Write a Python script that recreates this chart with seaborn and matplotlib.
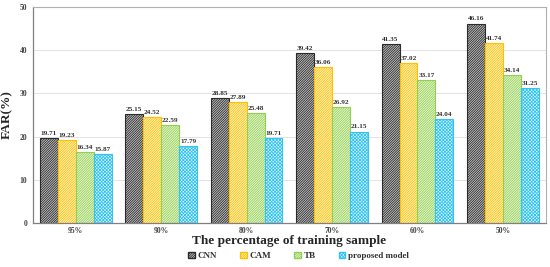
import matplotlib
matplotlib.use("Agg")
import matplotlib.pyplot as plt
import pandas as pd
import seaborn as sns

# data
samples = ["95%", "90%", "80%", "70%", "60%", "50%"]
models = ["CNN", "CAM", "TB", "proposed model"]
cnn = [19.71, 25.15, 28.85, 39.42, 41.35, 46.16]
cam = [19.23, 24.52, 27.89, 36.06, 37.02, 41.74]
tb = [16.34, 22.59, 25.48, 26.92, 33.17, 34.14]
proposed = [15.87, 17.79, 19.71, 21.15, 24.04, 31.25]

rows = []
for m, vals in zip(models, [cnn, cam, tb, proposed]):
    for s, v in zip(samples, vals):
        rows.append({"sample": s, "model": m, "far": v})
df = pd.DataFrame(rows)

sns.set_style("white")
plt.rcParams["font.family"] = ["Liberation Serif", "DejaVu Serif"]
plt.rcParams["hatch.linewidth"] = 0.6

edge_colors = ["#2b2b2b", "#ffc000", "#92d050", "#33c3f0"]
face_colors = ["#c8c8c8", "#fff6d8", "#eef8e0", "#e2f6fd"]
hatches = ["//////////////", "//////////////", "//////////////", "xxxxxxxxxx"]

fig, ax = plt.subplots(figsize=(5.5, 2.67), dpi=100)
sns.barplot(data=df, x="sample", y="far", hue="model", order=samples,
            hue_order=models, width=0.84, ax=ax, legend=True)

for cont, ec, fc, h in zip(ax.containers, edge_colors, face_colors, hatches):
    for bar in cont:
        bar.set_facecolor(fc)
        bar.set_edgecolor(ec)
        bar.set_hatch(h)
        bar.set_linewidth(0.8)
    ax.bar_label(cont, fmt="%.2f", padding=1.5, fontsize=5.2,
                 fontweight="bold", color="#333333")

ax.set_ylim(0, 50)
ax.set_yticks([0, 10, 20, 30, 40, 50])
ax.yaxis.grid(True, color="#e3e3e3", linewidth=0.7)
ax.set_axisbelow(True)
ax.tick_params(axis="both", labelsize=5.5, colors="#444444", length=0, pad=4)
ax.tick_params(axis="x", pad=3)
for lbl in ax.get_xticklabels() + ax.get_yticklabels():
    lbl.set_fontweight("bold")
for side in ["top", "right"]:
    ax.spines[side].set_color("#b0b0b0")
    ax.spines[side].set_linewidth(0.8)
for side in ["left", "bottom"]:
    ax.spines[side].set_color("#808080")
    ax.spines[side].set_linewidth(0.9)

ax.set_xlabel("The percentage of training sample", fontsize=9.5,
              fontweight="bold")
ax.xaxis.set_label_coords(0.5, -0.058)
ax.set_ylabel("FAR(%)", fontsize=9.6, fontweight="bold")
ax.yaxis.set_label_coords(-0.038, 0.5)

handles, labels = ax.get_legend_handles_labels()
for hd, ec, fc, h in zip(handles, edge_colors, face_colors, hatches):
    hd.set_facecolor(fc)
    hd.set_edgecolor(ec)
    hd.set_hatch(h)
ax.get_legend().remove()
leg = fig.legend(handles, labels, loc="center", bbox_to_anchor=(0.543, 0.04),
                 ncol=4, frameon=False, handlelength=0.7, handleheight=0.7,
                 columnspacing=2.6, handletextpad=0.3,
                 prop={"weight": "bold", "size": 6.5})
for t in leg.get_texts():
    t.set_color("#333333")

fig.subplots_adjust(left=0.06, right=0.992, top=0.974, bottom=0.165)
fig.savefig("out.png", dpi=100)
